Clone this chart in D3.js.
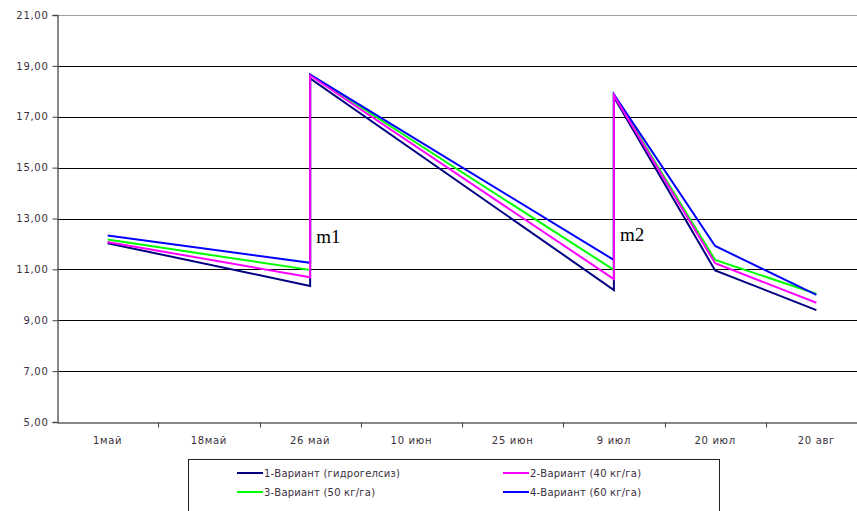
<!DOCTYPE html>
<html>
<head>
<meta charset="utf-8">
<script src="https://cdn.jsdelivr.net/npm/d3@7/dist/d3.min.js"></script>
<style>
  html, body { margin: 0; padding: 0; background: #fff; }
  svg { display: block; }
  text { font-family: "DejaVu Sans", sans-serif; }
</style>
</head>
<body>
<svg id="chart" width="857" height="511"></svg>
<script>
// ---- Data ----
const categories = ["1май", "18май", "26 май", "10 июн", "25 июн", "9 июл", "20 июл", "20 авг"];
const pointCats  = ["1май", "26 май", "26 май", "9 июл", "9 июл", "20 июл", "20 авг"];
const seriesNames = ["1-Вариант (гидрогелсиз)", "2-Вариант (40 кг/га)", "3-Вариант (50 кг/га)", "4-Вариант (60 кг/га)"];
const series1 = [12.03, 10.35, 18.51, 10.19, 17.78, 10.96, 9.40];
const series2 = [12.08, 10.69, 18.62, 10.62, 17.84, 11.24, 9.69];
const series3 = [12.17, 10.98, 18.66, 10.98, 17.86, 11.37, 10.04];
const series4 = [12.33, 11.26, 18.66, 11.37, 17.88, 11.92, 10.00];
const yTicks = [5, 7, 9, 11, 13, 15, 17, 19, 21];
const annotations = [
  { label: "m1", cat: "26 май", value: 12.05 },
  { label: "m2", cat: "9 июл", value: 12.1 }
];

// ---- Styles ----
const colors = ["#000080", "#ff00ff", "#00ff00", "#0000ff"];
const drawOrder = [0, 2, 3, 1];

(function () {
const svg = d3.select("#chart");
const mLeft = 57, mRight = 867, mTop = 15, mBottom = 422;

const x = d3.scaleBand().domain(categories).range([mLeft, mRight]).padding(0);
const xc = c => x(c) + x.bandwidth() / 2;
const y = d3.scaleLinear().domain([5, 21]).range([mBottom, mTop]);
const fmt = v => v.toFixed(2).replace(".", ",");

// gridlines
svg.append("g").selectAll("line")
  .data(yTicks.filter(v => v !== 5))
  .join("line")
  .attr("x1", mLeft).attr("x2", 857)
  .attr("y1", d => Math.round(y(d)) + 0.5).attr("y2", d => Math.round(y(d)) + 0.5)
  .attr("stroke", d => d === 21 ? "#a0a0a0" : "#000")
  .attr("stroke-width", 1);

// y axis
const yAxis = svg.append("g")
  .attr("transform", `translate(${mLeft + 0.5},0)`)
  .call(d3.axisLeft(y).tickValues(yTicks).tickFormat(fmt).tickSize(5).tickPadding(4));
yAxis.select(".domain").attr("stroke", "#606060").attr("stroke-width", 1.5);
yAxis.selectAll(".tick line").attr("stroke", "#404040");
yAxis.selectAll(".tick text")
  .attr("fill", "#3a3040")
  .style("font-family", "'DejaVu Sans', sans-serif")
  .style("font-size", "10px")
  .style("letter-spacing", "0.7px");

// x axis (labels at band centers, ticks at band boundaries)
const xAxis = svg.append("g")
  .attr("transform", `translate(0,${mBottom + 0.5})`)
  .call(d3.axisBottom(x).tickSize(0).tickPadding(14));
xAxis.select(".domain").attr("stroke", "#606060").attr("stroke-width", 1.5);
xAxis.selectAll(".tick text")
  .attr("fill", "#3a3040")
  .style("font-family", "'DejaVu Sans', sans-serif")
  .style("font-size", "10px")
  .style("letter-spacing", "0.7px");
xAxis.append("g").selectAll("line")
  .data(categories.slice(1))
  .join("line")
  .attr("x1", d => Math.round(x(d)) + 0.5).attr("x2", d => Math.round(x(d)) + 0.5)
  .attr("y1", 0).attr("y2", 5)
  .attr("stroke", "#404040");

// series lines
const allSeries = [series1, series2, series3, series4];
const line = d3.line()
  .x((d, i) => xc(pointCats[i]))
  .y(d => y(d));
svg.append("g").selectAll("path")
  .data(drawOrder)
  .join("path")
  .attr("d", k => line(allSeries[k]))
  .attr("fill", "none")
  .attr("stroke", k => colors[k])
  .attr("stroke-width", 2)
  .attr("stroke-linejoin", "miter");

// annotations
svg.append("g").selectAll("text")
  .data(annotations)
  .join("text")
  .attr("x", d => xc(d.cat) + 6)
  .attr("y", d => y(d.value))
  .attr("fill", "#000")
  .style("font-family", "'Liberation Serif', 'Times New Roman', serif")
  .style("font-size", "19px")
  .text(d => d.label);

// legend
const lg = svg.append("g").attr("transform", "translate(188,459)");
lg.append("rect")
  .attr("x", 0.5).attr("y", 0.5).attr("width", 531).attr("height", 70)
  .attr("fill", "#fff").attr("stroke", "#202020").attr("stroke-width", 1);
const legendPos = [[49, 14], [315, 14], [49, 33], [315, 33]];
const items = lg.selectAll("g.item")
  .data(seriesNames.map((n, i) => ({ n, i })))
  .join("g")
  .attr("class", "item")
  .attr("transform", d => `translate(${legendPos[d.i][0]},${legendPos[d.i][1]})`);
items.append("line")
  .attr("x1", 0).attr("x2", 26).attr("y1", 0).attr("y2", 0)
  .attr("stroke", d => colors[d.i]).attr("stroke-width", 2);
items.append("text")
  .attr("x", 27).attr("y", 0).attr("dy", "0.35em")
  .attr("fill", "#3a3040")
  .style("font-family", "'DejaVu Sans', sans-serif")
  .style("font-size", "10px")
  .style("letter-spacing", "0.2px")
  .text(d => d.n);
})();
</script>
</body>
</html>
